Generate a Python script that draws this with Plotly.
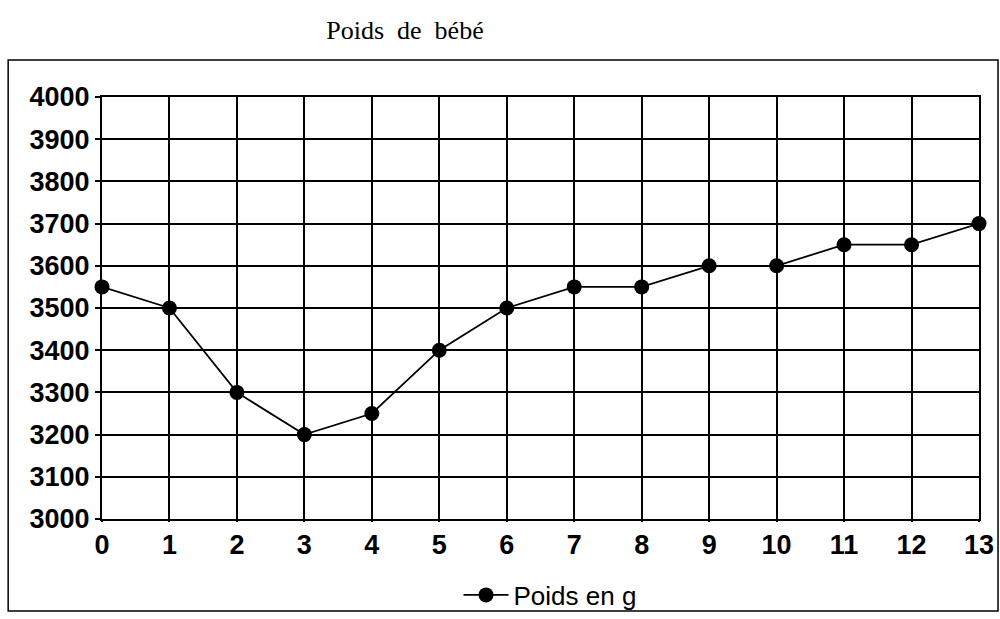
import plotly.graph_objects as go

days = list(range(14))
poids = [3550, 3500, 3300, 3200, 3250, 3400, 3500, 3550, 3550, 3600, 3600, 3650, 3650, 3700]
y_ticks = [3000, 3100, 3200, 3300, 3400, 3500, 3600, 3700, 3800, 3900, 4000]

fig = go.Figure()
fig.add_trace(go.Scatter(
    x=days, y=poids, mode="lines+markers", name="Poids en g",
    line=dict(color="black", width=1.8),
    marker=dict(color="black", size=15, symbol="circle"),
    cliponaxis=False,
))

tickfont = dict(family="Liberation Sans, Arial", size=27, color="black", weight="bold")
fig.update_layout(
    width=1000, height=619,
    margin=dict(l=102, r=21, t=97, b=100, autoexpand=False),
    paper_bgcolor="white", plot_bgcolor="white",
    title=dict(text="Poids\u00a0\u00a0de\u00a0\u00a0bébé", x=0.405, xanchor="center", y=1 - 30 / 619, yanchor="middle",
               xref="container", yref="container",
               font=dict(family="Liberation Serif, Times New Roman", size=26, color="black")),
    showlegend=True,
    legend=dict(orientation="h", x=(550 - 102) / 877, xanchor="center", y=(519 - 595) / 422, yanchor="middle",
                font=dict(family="Liberation Sans, Arial", size=26, color="black"),
                bgcolor="rgba(0,0,0,0)", itemwidth=45),
    xaxis=dict(range=[0, 13], tickvals=days, ticktext=[str(d) for d in days],
               showgrid=True, gridcolor="black", gridwidth=2,
               showline=True, linecolor="black", linewidth=2, mirror=True,
               ticks="outside", ticklen=1, tickcolor="black", tickwidth=2,
               tickfont=tickfont, zeroline=False, automargin=False),
    yaxis=dict(range=[3000, 4000], tickvals=y_ticks, ticktext=[str(v) for v in y_ticks],
               showgrid=True, gridcolor="black", gridwidth=2,
               showline=True, linecolor="black", linewidth=2, mirror=True,
               ticks="outside", ticklen=5, tickcolor="black", tickwidth=2,
               tickfont=tickfont, zeroline=False, automargin=False),
)

fig.add_shape(type="rect", xref="paper", yref="paper",
              x0=-0.107, x1=1.0217, y0=-0.218, y1=1.0877,
              line=dict(color="black", width=1.5), fillcolor="rgba(0,0,0,0)", layer="below")

fig.write_html("out.html", config={"displayModeBar": False},
               post_script="document.body.style.margin='0px';document.body.style.padding='0px';")
